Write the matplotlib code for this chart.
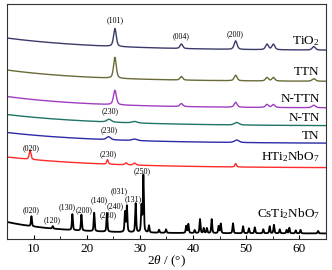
import numpy as np
import matplotlib
matplotlib.use("Agg")
import matplotlib.pyplot as plt
from matplotlib.ticker import MultipleLocator

plt.rcParams['font.family'] = ['Liberation Serif', 'DejaVu Serif']
plt.rcParams['mathtext.fontset'] = 'custom'
plt.rcParams['mathtext.rm'] = 'Liberation Serif'
plt.rcParams['mathtext.it'] = 'Liberation Serif:italic'

# ---- data ----
series_names = ["TiO$_2$", "TTN", "N-TTN", "N-TN", "TN", "HTi$_2$NbO$_7$", "CsTi$_2$NbO$_7$"]
series_colors = ["#3a3a6a", "#6a6a38", "#a03cc0", "#1e7466", "#2a2aa8", "#ff2a2a", "#000000"]

# baseline: level at 5 deg, level at 65 deg, decay constant (deg)
base_start = [201.0, 169.0, 142.5, 124.5, 106.5, 82.0, 17.0]
base_end = [188.5, 157.5, 131.0, 113.0, 95.5, 71.0, 5.5]
base_tau = [18.0, 16.0, 16.0, 18.0, 18.0, 18.0, 10.0]

# peaks: positions (2theta), heights, widths (FWHM)
tio2_pos = [25.3, 37.8, 48.0, 53.9, 55.1, 62.7]
tio2_h = [18.0, 4.5, 8.5, 5.5, 5.5, 3.5]
tio2_w = [0.6, 0.6, 0.65, 0.65, 0.65, 0.7]

ttn_pos = [25.3, 37.8, 48.0, 53.9, 55.1, 62.7]
ttn_h = [21.0, 3.5, 5.5, 3.5, 3.5, 2.5]
ttn_w = [0.6, 0.6, 0.65, 0.65, 0.65, 0.75]

nttn_pos = [25.3, 37.8, 48.0, 53.9, 55.1, 62.7]
nttn_h = [14.5, 3.0, 5.0, 3.0, 3.0, 2.5]
nttn_w = [0.65, 0.65, 0.65, 0.65, 0.65, 0.75]

ntn_pos = [24.2, 29.0, 48.2]
ntn_h = [2.8, 1.5, 2.5]
ntn_w = [1.0, 1.2, 1.0]

tn_pos = [24.1, 29.0, 48.2]
tn_h = [3.0, 1.5, 2.5]
tn_w = [0.9, 1.2, 1.0]

hti_pos = [9.35, 23.9, 27.4, 29.0, 48.0]
hti_h = [9.0, 4.5, 2.0, 2.0, 3.5]
hti_w = [0.4, 0.35, 0.5, 0.6, 0.35]

cs_pos = [9.6, 13.6, 17.3, 19.0, 21.4, 23.8, 27.2, 27.55, 29.2, 30.3, 30.65, 31.7,
          33.6, 34.9, 38.7, 39.1, 40.3, 41.3, 42.0, 42.6, 43.5, 44.8, 45.2, 47.5,
          49.4, 50.5, 51.6, 53.2, 54.4, 55.2, 56.3, 57.6, 58.1, 59.3, 60.2, 63.5]
cs_h = [10.0, 2.5, 16.0, 16.0, 18.5, 18.5, 20.0, 26.0, 29.0, 26.0, 57.0, 7.0,
        3.0, 3.5, 7.0, 9.0, 3.0, 14.0, 5.0, 5.0, 14.0, 7.0, 9.5, 10.0,
        7.0, 5.0, 6.0, 4.0, 7.0, 8.5, 4.0, 3.5, 5.5, 3.0, 3.5, 2.5]
cs_w = [0.22] * len(cs_pos)

peak_pos = [tio2_pos, ttn_pos, nttn_pos, ntn_pos, tn_pos, hti_pos, cs_pos]
peak_h = [tio2_h, ttn_h, nttn_h, ntn_h, tn_h, hti_h, cs_h]
peak_w = [tio2_w, ttn_w, nttn_w, ntn_w, tn_w, hti_w, cs_w]

name_y = [197.5, 167.5, 140.5, 121.0, 103.0, 82.0, 25.0]

# hkl annotations: text, 2theta, level
hkl_text = ["(101)", "(004)", "(200)", "(230)", "(230)", "(020)", "(230)",
            "(250)", "(031)", "(131)", "(140)", "(240)", "(130)", "(200)",
            "(020)", "(230)", "(120)"]
hkl_x = [25.4, 37.8, 47.9, 24.4, 24.2, 9.6, 24.0,
         30.5, 26.05, 28.7, 22.3, 25.4, 16.3, 19.5,
         9.6, 24.0, 13.4]
hkl_y = [219.0, 203.0, 204.5, 128.0, 109.0, 91.3, 85.0,
         68.0, 47.3, 39.7, 38.3, 32.3, 31.7, 28.3,
         29.0, 23.3, 19.0]

# ---- plot ----
fig = plt.figure(figsize=(3.32, 2.70), dpi=100)
ax = fig.add_axes([0.021, 0.115, 0.961, 0.870])

x = np.linspace(5, 65, 4000)
for i in range(len(series_names)):
    y = base_end[i] + (base_start[i] - base_end[i]) * np.exp(-(x - 5) / base_tau[i])
    for p, h, w in zip(peak_pos[i], peak_h[i], peak_w[i]):
        g = np.exp(-4 * np.log(2) * ((x - p) / w) ** 2)
        l = 1.0 / (1.0 + ((x - p) / (w / 2)) ** 2)
        y = y + h * (0.5 * g + 0.5 * l)
    lw = 1.3 if i == len(series_names) - 1 else 1.0
    ax.plot(x, y, color=series_colors[i], lw=lw)
    ax.text(63.8, name_y[i], series_names[i], ha='right', va='center', fontsize=9.5)

for t, hx, hy in zip(hkl_text, hkl_x, hkl_y):
    ax.text(hx, hy, t, ha='center', va='center', fontsize=5.8)

ax.set_xlim(5, 65)
ax.set_ylim(0, 235)
ax.set_yticks([])
ax.xaxis.set_major_locator(MultipleLocator(10))
ax.xaxis.set_minor_locator(MultipleLocator(5))
ax.tick_params(axis='x', which='both', direction='in', labelsize=9.5, pad=3)
ax.tick_params(axis='x', which='major', length=3)
ax.tick_params(axis='x', which='minor', length=2)
for s in ax.spines.values():
    s.set_linewidth(0.8)
    s.set_color('#333333')
ax.set_xlabel(r"2$\it{\theta}$ / (°)", fontsize=9.5, labelpad=-1)

fig.savefig("out.png", dpi=100)
